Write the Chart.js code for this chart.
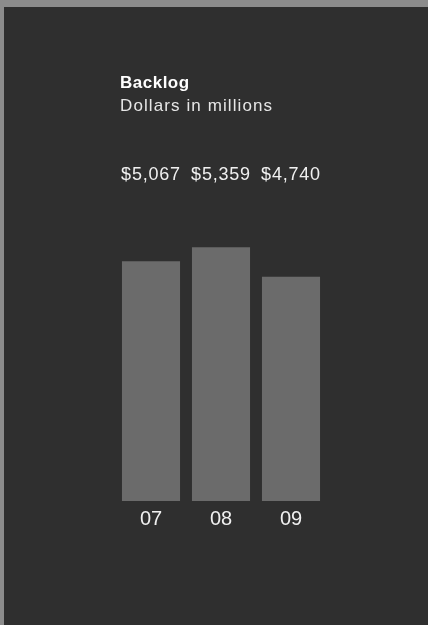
<!DOCTYPE html>
<html>
<head>
<meta charset="utf-8">
<script src="https://cdn.jsdelivr.net/npm/chart.js@4"></script>
<style>
  html, body { margin: 0; padding: 0; background: #2f2f2f; }
  #wrap { position: relative; width: 428px; height: 625px; }
</style>
</head>
<body>
<div id="wrap"><canvas id="myChart" width="428" height="625"></canvas></div>
<script>
// chart data
const years = ['07', '08', '09'];
const backlog = [5067, 5359, 4740];
const valueLabels = ['$5,067', '$5,359', '$4,740'];
const titleText = 'Backlog';
const subtitleText = 'Dollars in millions';

// paints the scanned-page background and the text rows
const pagePlugin = {
  id: 'page',
  beforeDraw(chart) {
    const c = chart.ctx;
    c.save();
    c.fillStyle = '#2f2f2f';
    c.fillRect(0, 0, chart.width, chart.height);
    c.fillStyle = '#8c8c8c';
    c.fillRect(0, 0, chart.width, 7);
    c.fillRect(0, 0, 4, chart.height);
    c.restore();
  },
  afterDraw(chart) {
    const c = chart.ctx;
    const x = chart.scales.x;
    c.save();
    c.fillStyle = '#ffffff';
    c.textBaseline = 'middle';
    c.textAlign = 'left';
    c.letterSpacing = '0.5px';
    c.font = 'bold 17px "Liberation Sans", Arial, sans-serif';
    c.fillText(titleText, 120, 83);
    c.fillStyle = '#e6e6e6';
    c.letterSpacing = '1.1px';
    c.font = '17px "Liberation Sans", Arial, sans-serif';
    c.fillText(subtitleText, 120, 106);

    c.textAlign = 'center';
    c.letterSpacing = '0.8px';
    c.font = '18px "Liberation Sans", Arial, sans-serif';
    c.fillStyle = '#f0f0f0';
    valueLabels.forEach((v, i) => {
      c.fillText(v, x.getPixelForValue(i), 175);
    });
    c.letterSpacing = '0px';
    c.font = '20px "Liberation Sans", Arial, sans-serif';
    years.forEach((y, i) => {
      c.fillText(y, x.getPixelForValue(i), 519);
    });
    c.restore();
  }
};

const ctx = document.getElementById('myChart').getContext('2d');
const chart = new Chart(ctx, {
  type: 'bar',
  data: {
    labels: years,
    datasets: [{
      label: 'Backlog',
      data: backlog,
      backgroundColor: '#6b6b6b',
      borderWidth: 0
    }]
  },
  options: {
    responsive: false,
    animation: false,
    layout: { padding: { left: 116, right: 102, top: 217, bottom: 124 } },
    plugins: {
      legend: { display: false },
      title: { display: false },
      tooltip: { enabled: false }
    },
    datasets: { bar: { categoryPercentage: 1, barPercentage: 0.83 } },
    scales: {
      x: { display: false },
      y: { display: false, min: 0, max: 6000 }
    }
  },
  plugins: [pagePlugin]
});
</script>
</body>
</html>
